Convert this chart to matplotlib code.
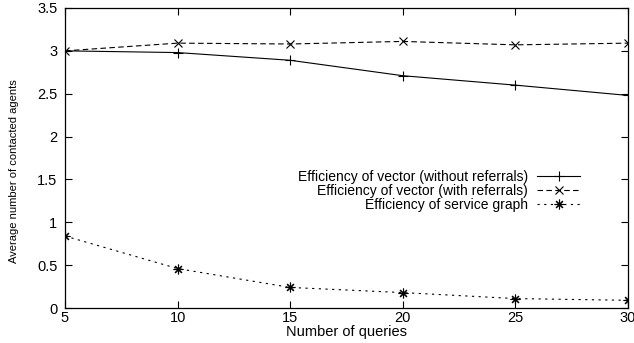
import matplotlib
matplotlib.use("Agg")
import matplotlib.pyplot as plt

plt.rcParams['font.family'] = ['Liberation Sans', 'DejaVu Sans']

# number of queries on the x axis
queries = [5, 10, 15, 20, 25, 30]

# average number of contacted agents for each method
vector_no_ref = [3.00, 2.98, 2.89, 2.71, 2.60, 2.48]
vector_ref = [3.00, 3.09, 3.08, 3.11, 3.07, 3.09]
service_graph = [0.84, 0.46, 0.24, 0.18, 0.11, 0.09]

labels = ["Efficiency of vector (without referrals)",
          "Efficiency of vector (with referrals)",
          "Efficiency of service graph"]

fig = plt.figure(figsize=(6.34, 3.43), dpi=100)
ax = fig.add_axes([0.1025, 0.102, 0.888, 0.8747])

lw = 0.8
ax.plot(queries, vector_no_ref, color='k', linewidth=lw, marker='+',
        markersize=7, markeredgewidth=lw, label=labels[0])
ax.plot(queries, vector_ref, color='k', linewidth=lw, linestyle=(0, (5, 3)),
        marker='x', markersize=6, markeredgewidth=lw, label=labels[1])
ax.plot(queries, service_graph, color='k', linewidth=lw, linestyle=(0, (2, 4)),
        marker=(8, 2, 0), markersize=7, markeredgewidth=lw, label=labels[2])

ax.set_xlim(5, 30)
ax.set_ylim(0, 3.5)
ax.set_xticks(queries)
ax.set_yticks([0, 0.5, 1, 1.5, 2, 2.5, 3, 3.5])
ax.set_yticklabels(["0", "0.5", "1", "1.5", "2", "2.5", "3", "3.5"])
ax.tick_params(direction='in', top=True, right=True, length=5, width=0.8,
               labelsize=10.5)
ax.tick_params(axis='y', pad=5.5)
ax.tick_params(axis='x', pad=2.5)
for sp in ax.spines.values():
    sp.set_linewidth(0.9)

ax.set_xlabel("Number of queries", fontsize=10.5, labelpad=0)
ax.set_ylabel("Average number of contacted agents", fontsize=8)
ax.yaxis.set_label_coords(-0.082, 0.457)

ax.legend(loc='upper right', bbox_to_anchor=(0.915, 0.46), frameon=False,
          markerfirst=False, fontsize=10, handlelength=3.1, handletextpad=0.65,
          labelspacing=0.0, borderpad=0, borderaxespad=0)

fig.savefig("out.png", dpi=100)
